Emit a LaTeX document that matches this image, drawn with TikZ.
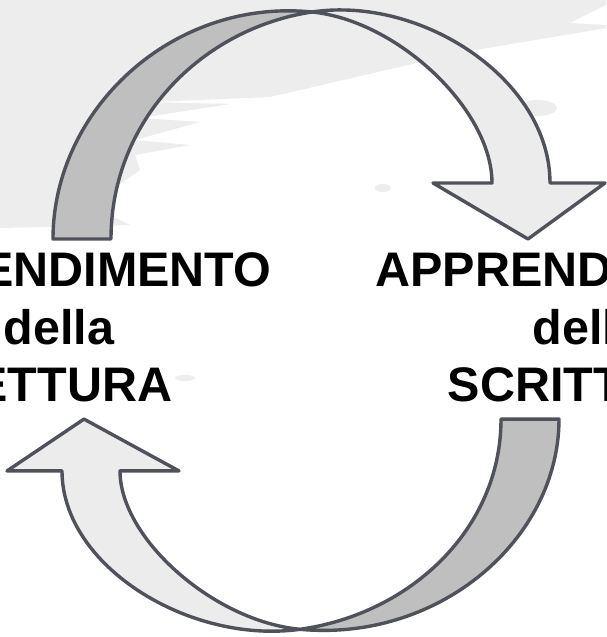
\documentclass[tikz,border=0pt]{standalone}
\usepackage{fontspec}
\setmainfont{Liberation Sans}
\usetikzlibrary{positioning}

\definecolor{rimgray}{HTML}{4F525A}
\definecolor{backgray}{HTML}{BFBFBF}
\definecolor{frontgray}{HTML}{ECECEC}
\definecolor{washgray}{HTML}{EDEDED}

\begin{document}
\begin{tikzpicture}[x=1pt,y=-1pt,node distance=529pt,on grid,
    rim/.style={draw=rimgray,line width=3.4pt,line join=round},
    topic/.style={inner sep=0pt,align=center,font=\fontsize{48.5}{57.5}\selectfont\bfseries},
    cyclearrow/.pic={
      \filldraw[rim,fill=backgray] (53,239) .. controls (53,110) and (172,-2) .. (312,12)
        .. controls (202,28.5) and (111,120) .. (111,239) -- cycle;
      \filldraw[rim,fill=frontgray] (312,12) .. controls (422,-4.5) and (550,80) .. (550,183)
        -- (605,183) -- (528,239) -- (433,183) -- (492,183)
        .. controls (492,110) and (398,20.6) .. (312,12) -- cycle;
    }]
\useasboundingbox (0,0) rectangle (606,637);
\fill[white] (0,0) rectangle (606,637);
\fill[washgray] (0,0) -- (606,0) -- (606,28) -- (464,52) -- (270,97) -- (150,102)
  -- (230,104) -- (140,118) -- (200,122) -- (135,140) -- (190,145) -- (135,155)
  -- (140,170) -- (90,205) -- (130,225) -- (0,228) -- cycle;
\fill[white] (570,23) -- (606,5) -- (606,25) -- cycle;
\fill[washgray] (537,108) ellipse [x radius=20, y radius=8];
\fill[washgray] (383,188) ellipse [x radius=8, y radius=4];
\fill[washgray] (185,378) ellipse [x radius=10, y radius=3];

\pic at (0,0) {cyclearrow};
\pic[rotate=180,yscale=0.926] at (612,640.4) {cyclearrow};

\node[topic] (lettura) at (59,327.5) {APPRENDIMENTO\\della\\LETTURA};
\node[topic] (scrittura) [right=of lettura] {APPRENDIMENTO\\della\\SCRITTURA};
\end{tikzpicture}
\end{document}
